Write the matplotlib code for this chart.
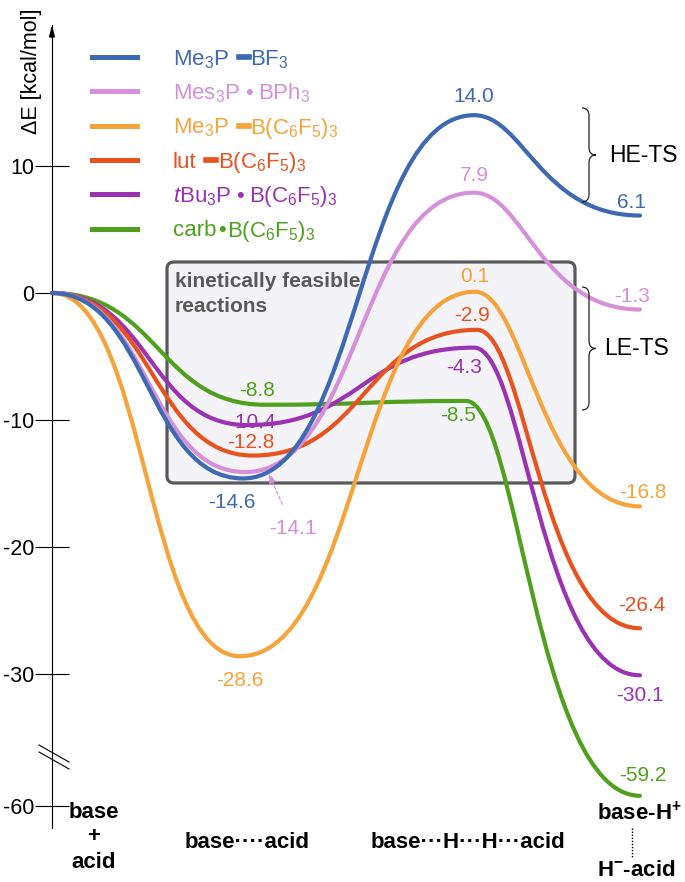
import numpy as np
import matplotlib
matplotlib.use("Agg")
import matplotlib.pyplot as plt
import matplotlib.patheffects as pe
from matplotlib.path import Path
from matplotlib.patches import PathPatch, FancyBboxPatch
from matplotlib.lines import Line2D

plt.rcParams['font.family'] = ['Liberation Sans', 'DejaVu Sans']
plt.rcParams['mathtext.fontset'] = 'custom'
plt.rcParams['mathtext.rm'] = 'Liberation Sans'
plt.rcParams['mathtext.it'] = 'Liberation Sans:italic'
plt.rcParams['mathtext.bf'] = 'Liberation Sans:bold'
plt.rcParams['mathtext.default'] = 'regular'

# ---------------- data ----------------
stage_labels = ['base\n+\nacid', 'base\u00b7\u00b7\u00b7\u00b7acid',
                'base\u00b7\u00b7\u00b7H\u00b7\u00b7\u00b7H\u00b7\u00b7\u00b7acid',
                r'base-H$^{\mathbf{+}}$', r'H$^{\mathbf{-}}$-acid']
# legend labels: (base, connector, acid); '-' = bond bar, '*' = adduct dot
legend_parts = [
    ('Me$_3$P', '-', 'BF$_3$'),
    ('Mes$_3$P', '*', 'BPh$_3$'),
    ('Me$_3$P', '-', 'B(C$_6$F$_5$)$_3$'),
    ('lut', '-', 'B(C$_6$F$_5$)$_3$'),
    (r'$\mathit{t}$Bu$_3$P', '*', 'B(C$_6$F$_5$)$_3$'),
    ('carb', '*', 'B(C$_6$F$_5$)$_3$'),
]
E_me3p_bf3 = [0.0, -14.6, 14.0, 6.1]
E_mes3p_bph3 = [0.0, -14.1, 7.9, -1.3]
E_me3p_bcf = [0.0, -28.6, 0.1, -16.8]
E_lut_bcf = [0.0, -12.8, -2.9, -26.4]
E_tbu3p_bcf = [0.0, -10.4, -4.3, -30.1]
E_carb_bcf = [0.0, -8.8, -8.5, -59.2]
energies = [E_me3p_bf3, E_mes3p_bph3, E_me3p_bcf, E_lut_bcf, E_tbu3p_bcf, E_carb_bcf]
yticks = [10, 0, -10, -20, -30, -60]
ytick_labels = ['10', '0', '-10', '-20', '-30', '-60']

# ---------------- style / layout ----------------
colors = ['#3d69b2', '#d690da', '#f7a33b', '#e8521f', '#9a32b2', '#4fa11d']
stage_x = [52, 245, 474, 640]
x_shift = [[0, -2, 0, 0], [0, 0, 0, 0], [0, -5, 1, 0],
           [0, 8, 3, 0], [0, 2, 0, 0], [0, 20, -8, 0]]
handles = [(0.5, 0.5), (0.5, 0.5), (0.3, 0.6)]
# label offsets in pixels (dx, dy up) for min, peak, end
lab_off = [
    [(-11, -24), (0, 19), (-8, 13)],
    [None, (0, 17), (-8, 13)],
    [(0, -24), (0, 15), (3, 14)],
    [(-2, 13), (-5, 14), (2, 23)],
    [(5, 3), (-10, -20), (0, -20)],
    [(-8, 14), (-8, -15), (3, 20)],
]
connector_gap = {'-': (8, 0), '*': (5, 5)}
connector_gap_tight = (1.5, 1.5)

# broken axis scale
B1, B2, T = -32.0, -57.0, -37.39
r = (T - B1) / (B2 - B1)


def fwd(y):
    y = np.asarray(y, float)
    return np.where(y >= B1, y, np.where(y >= B2, B1 + (y - B1) * r, T + (y - B2)))


def inv(v):
    v = np.asarray(v, float)
    return np.where(v >= B1, v, np.where(v >= T, B1 + (v - B1) / r, B2 + (v - T)))


W, H = 685, 882
PXU = 12.7
PT = 0.72
fig = plt.figure(figsize=(W / 100, H / 100), dpi=100)
ax = fig.add_axes([0, 0, 1, 1])
ax.set_facecolor('none')
ax.set_yscale('function', functions=(fwd, inv))
ax.set_xlim(0, W)
ax.set_ylim(float(inv(-(H - 293) / PXU)), 293 / PXU)

for s in ['top', 'right', 'bottom']:
    ax.spines[s].set_visible(False)
ax.spines['left'].set_position(('data', 52))
ax.spines['left'].set_linewidth(0.8)
y_top = (293 - 25) / PXU
y_bot = float(inv(-(828 - 293) / PXU))
ax.spines['left'].set_bounds(y_bot, y_top)
ax.annotate('', xy=(52, y_top), xytext=(52, y_top - 1.0),
            arrowprops=dict(arrowstyle='-|>,head_length=0.7,head_width=0.18',
                            lw=0.8, color='k', shrinkA=0, shrinkB=0))
ax.set_xticks([])
ax.set_yticks(yticks)
ax.set_yticklabels(ytick_labels)
ax.tick_params(axis='y', direction='inout', length=25, width=0.8,
               labelsize=15.5, pad=0)
ax.minorticks_off()

# break marks
for dy in (0, 7):
    ax.plot([39, 69], [float(inv(-(745 + dy - 293) / PXU)), float(inv(-(762 + dy - 293) / PXU))],
            color='k', lw=0.8, clip_on=False)

ax.text(31 / W, 1 - 71 / H, '\u0394E [kcal/mol]', rotation=90, ha='center',
        va='center', fontsize=15.5, transform=ax.transAxes)

# kinetically feasible box
box = FancyBboxPatch((167, -14.96), 575 - 167, 2.44 + 14.96,
                     boxstyle='round,pad=0,rounding_size=7',
                     mutation_aspect=1 / PXU, facecolor='#f3f3f8',
                     edgecolor='#595959', lw=2.3, zorder=1)
ax.add_patch(box)
ax.text(175, 2.44 - 0.75, 'kinetically feasible\nreactions', fontsize=15,
        fontweight='bold', color='#595959', ha='left', va='top',
        linespacing=1.45, zorder=3)


# curves
def profile_path(xs, ys):
    verts = [(xs[0], ys[0])]
    codes = [Path.MOVETO]
    for i in range(3):
        dx = xs[i + 1] - xs[i]
        h0, h1 = handles[i]
        verts += [(xs[i] + h0 * dx, ys[i]), (xs[i + 1] - h1 * dx, ys[i + 1]),
                  (xs[i + 1], ys[i + 1])]
        codes += [Path.CURVE4] * 3
    return Path(verts, codes)


order = [5, 4, 3, 2, 1, 0]
for k in order:
    xs = [stage_x[j] + x_shift[k][j] for j in range(4)]
    ys = energies[k]
    p = PathPatch(profile_path(xs, ys), fill=False, edgecolor=colors[k],
                  lw=3.0, capstyle='round', zorder=2 + 0.1 * (6 - k))
    ax.add_patch(p)
    for j in (1, 2, 3):
        off = lab_off[k][j - 1]
        if off is None:
            continue
        ax.annotate(f'{ys[j]:.1f}', xy=(xs[j], ys[j]),
                    xytext=(off[0] * PT, off[1] * PT), textcoords='offset points',
                    ha='center', va='center', fontsize=15, color=colors[k], zorder=4)

# pink minimum label with dashed arrow
xm = stage_x[1] + x_shift[1][1]
ax.annotate(f'{E_mes3p_bph3[1]:.1f}', xy=(xm + 23, E_mes3p_bph3[1]),
            xytext=(25 * PT, -56 * PT), textcoords='offset points',
            ha='center', va='center', fontsize=15, color=colors[1],
            arrowprops=dict(arrowstyle='-|>,head_length=0.4,head_width=0.15',
                            linestyle=(0, (3, 2)), lw=0.8, color=colors[1],
                            shrinkA=9, shrinkB=1), zorder=4)

# legend (manual, chained text pieces)
LFS = 16
for i, ((left, conn, right), c) in enumerate(zip(legend_parts, colors)):
    yp = 57 + 34.3 * i
    yf = 1 - yp / H
    ax.add_line(Line2D([92 / W, 137 / W], [yf, yf], color=c, lw=3.6,
                       transform=ax.transAxes))
    yb = 1 - (yp + 8) / H
    t1 = ax.text(173 / W, yb, left, color=c, fontsize=LFS, va='baseline',
                 ha='left', transform=ax.transAxes)
    g0, g1 = connector_gap[conn]
    if left == 'carb':
        g0, g1 = connector_gap_tight
    if conn == '-':
        t2 = ax.annotate('\u2501', xy=(1, yb), xycoords=(t1, ax.transAxes),
                         xytext=(g0 * PT, 0), textcoords='offset points',
                         va='baseline', ha='left', color=c, fontsize=LFS,
                         fontfamily='DejaVu Sans', fontweight='bold',
                         path_effects=[pe.withStroke(linewidth=1.2, foreground=c)])
    else:
        t2 = ax.annotate('\u2022', xy=(1, yb), xycoords=(t1, ax.transAxes),
                         xytext=(g0 * PT, 0), textcoords='offset points',
                         va='baseline', ha='left', color=c, fontsize=LFS)
    ax.annotate(right, xy=(1, yb), xycoords=(t2, ax.transAxes),
                xytext=(g1 * PT, 0), textcoords='offset points',
                va='baseline', ha='left', color=c, fontsize=LFS)


# braces
def brace(xl, xs_, xt, yt, yb, rr):
    ym = 0.5 * (yt + yb)
    verts = [(xl, yt), (xs_, yt), (xs_, yt - rr), (xs_, ym + rr),
             (xs_, ym), (xt, ym), (xs_, ym), (xs_, ym - rr),
             (xs_, yb + rr), (xs_, yb), (xl, yb)]
    codes = [Path.MOVETO, Path.CURVE3, Path.CURVE3, Path.LINETO,
             Path.CURVE3, Path.CURVE3, Path.CURVE3, Path.CURVE3,
             Path.LINETO, Path.CURVE3, Path.CURVE3]
    ax.add_patch(PathPatch(Path(verts, codes), fill=False, lw=0.9,
                           edgecolor='#222222', zorder=3))
    return ym


ym = brace(582, 589, 596, (293 - 108) / PXU, (293 - 202) / PXU, 0.6)
ax.text(643, ym, 'HE-TS', fontsize=16.5, ha='center', va='center')
ym = brace(582, 589, 596, (293 - 287) / PXU, (293 - 410) / PXU, 0.6)
ax.text(637, ym, 'LE-TS', fontsize=16.5, ha='center', va='center')

# stage labels
xt = ax.get_xaxis_transform()
lab_pos = [(94, 837), (247, 843), (468, 843), (639, 813), (636, 870)]
for lab, (px, py) in zip(stage_labels, lab_pos):
    ax.text(px, 1 - py / H, lab, transform=xt, ha='center', va='center',
            fontsize=16, fontweight='bold', linespacing=1.25)
ax.plot([632, 632], [1 - 828 / H, 1 - 858 / H], transform=xt, color='k',
        lw=1.0, ls=(0, (1, 1.2)), clip_on=False)

fig.savefig('out.png', dpi=100)
